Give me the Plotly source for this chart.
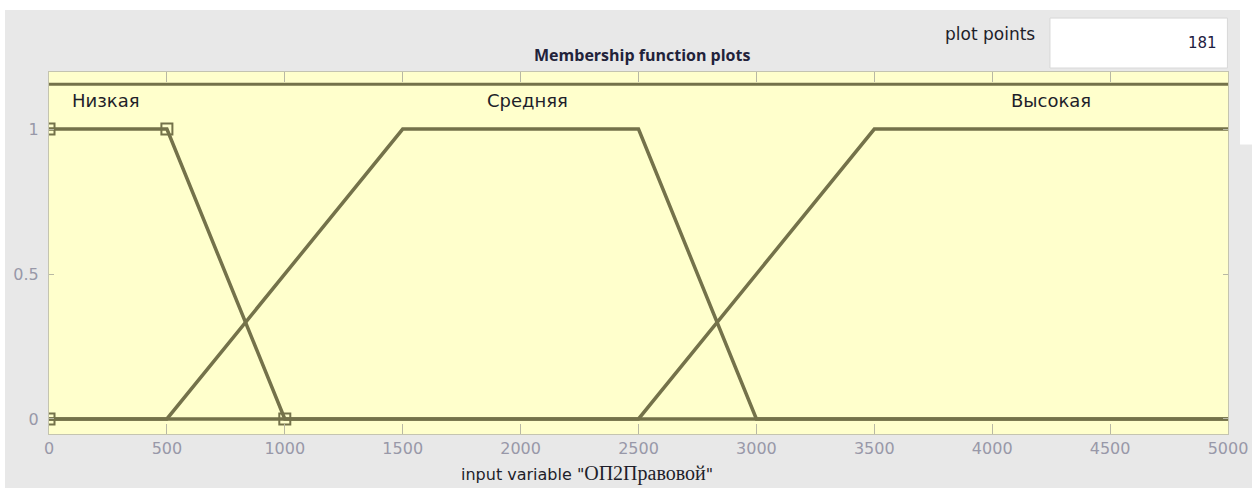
import plotly.graph_objects as go

# membership functions of input variable (trapmf vertices)
mf_names = ["Низкая", "Средняя", "Высокая"]
low_x = [0, 500, 1000, 5000]
low_y = [1, 1, 0, 0]
mid_x = [0, 500, 1500, 2500, 3000, 5000]
mid_y = [0, 0, 1, 1, 0, 0]
high_x = [0, 2500, 3500, 5000]
high_y = [0, 0, 1, 1]

# selected MF (Низкая) parameter handles
handle_x = [0, 0, 500, 1000]
handle_y = [0, 1, 1, 0]

label_x = [90, 2030, 4250]
label_y = [1.10, 1.10, 1.10]

x_ticks = [0, 500, 1000, 1500, 2000, 2500, 3000, 3500, 4000, 4500, 5000]
y_ticks = [0, 0.5, 1]
plot_points = 181

OLIVE = "#74724a"
TICK_GRAY = "#9898a8"
TEXT = "#1e1e2a"

fig = go.Figure()
for xs, ys in [(low_x, low_y), (mid_x, mid_y), (high_x, high_y)]:
    fig.add_trace(go.Scatter(x=xs, y=ys, mode="lines",
                             line=dict(color=OLIVE, width=3.5),
                             hoverinfo="skip"))

fig.add_trace(go.Scatter(x=handle_x, y=handle_y, mode="markers",
                         marker=dict(symbol="square-open", size=11,
                                     color=OLIVE, line=dict(width=2, color=OLIVE)),
                         hoverinfo="skip", cliponaxis=True))

# MF names
for i, name in enumerate(mf_names):
    fig.add_annotation(x=label_x[i], y=label_y[i], text=name, showarrow=False,
                       xanchor="left" if i == 0 else "center", yanchor="middle",
                       font=dict(family="DejaVu Sans", size=18, color=TEXT))

# top separator line inside axes
fig.add_shape(type="line", xref="x", yref="y", x0=0, x1=5000, y0=1.155, y1=1.155,
              line=dict(color=OLIVE, width=3))

# white edges of the window capture
white = "white"
fig.add_shape(type="rect", xref="paper", yref="paper", x0=-0.1, x1=1.1, y0=1.171, y1=1.3,
              fillcolor=white, line_width=0, layer="above")
fig.add_shape(type="rect", xref="paper", yref="paper", x0=-0.1, x1=-0.0373, y0=-0.3, y1=1.3,
              fillcolor=white, line_width=0, layer="above")
fig.add_shape(type="rect", xref="paper", yref="paper", x0=1.0102, x1=1.1, y0=0.8, y1=1.3,
              fillcolor=white, line_width=0, layer="above")
# plot points edit box
fig.add_shape(type="rect", xref="paper", yref="paper", x0=0.849, x1=0.9995, y0=1.011, y1=1.149,
              fillcolor=white, line=dict(color="#d8d8d8", width=1), layer="above")

fig.add_annotation(xref="paper", yref="paper", x=0.503, y=1.047, yanchor="middle",
                   text="<b>Membership function plots</b>", showarrow=False,
                   font=dict(family="Open Sans", size=16, color="#22223a"))
fig.add_annotation(xref="paper", yref="paper", x=0.838, y=1.105, xanchor="right",
                   yanchor="middle", text="plot points", showarrow=False,
                   font=dict(family="DejaVu Sans", size=17, color=TEXT))
fig.add_annotation(xref="paper", yref="paper", x=0.992, y=1.08, xanchor="right",
                   yanchor="middle", text=str(plot_points), showarrow=False,
                   font=dict(family="DejaVu Sans", size=15, color="#1e2040"))
fig.add_annotation(xref="paper", yref="paper", x=0.456, y=-0.11, yanchor="middle",
                   text='input variable "<span style="font-family:Liberation Serif;font-size:20px">ОП2Правовой</span>"',
                   showarrow=False,
                   font=dict(family="DejaVu Sans", size=16, color=TEXT))

fig.update_layout(
    width=1252, height=488,
    margin=dict(l=49, r=24, t=72, b=54),
    paper_bgcolor="#e8e8e8",
    plot_bgcolor="#ffffcc",
    showlegend=False,
    xaxis=dict(range=[0, 5000], tickvals=x_ticks, ticks="inside", ticklen=10,
               tickcolor="#b8b8a4", showgrid=False, zeroline=False, automargin=False,
               showline=True, linecolor="#c4c4b0", mirror="ticks",
               tickfont=dict(family="DejaVu Sans", size=16, color=TICK_GRAY)),
    yaxis=dict(range=[-0.052, 1.197], tickvals=y_ticks, ticktext=["0", "0.5", "1"],
               ticks="inside", ticklen=5, tickcolor="#b8b8a4", showgrid=False,
               zeroline=False, showline=True, linecolor="#c4c4b0", mirror="ticks",
               ticklabelstandoff=6, automargin=False,
               tickfont=dict(family="DejaVu Sans", size=16, color=TICK_GRAY)),
)

# page body has a default margin; remove it so the figure fills the window
fig.write_html("out.html", config={"displayModeBar": False},
               post_script="document.body.style.margin='0px';")
